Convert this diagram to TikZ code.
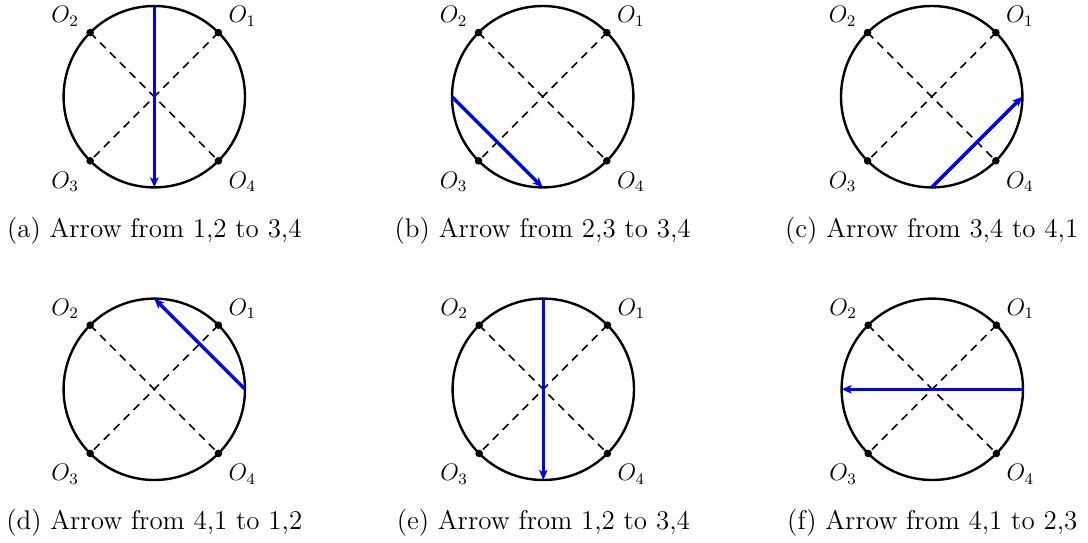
\documentclass[tikz,border=0pt]{standalone}
\usetikzlibrary{arrows.meta}
\tikzset{
  rim/.style={draw,circle,line width=1.2pt,inner sep=0pt,outer sep=0pt,minimum size=90.7pt},
  diag/.style={line width=0.8pt,dash pattern=on 4pt off 3pt},
  dotmark/.style={circle,fill,inner sep=0pt,outer sep=0pt,minimum size=3.8pt},
  move/.style={blue,line width=1.7pt,-{Stealth[length=5pt,width=4.2pt,inset=1.2pt]}},
  olab/.style={inner sep=0pt,font=\fontsize{12}{14}\selectfont},
  captext/.style={inner sep=0pt,anchor=base,font=\fontsize{13.5}{16}\selectfont}
}
\newcommand\mypanel[7]{% name, cx, cy, from angle, to angle, caption y, caption
  \begin{scope}[shift={(#2,#3)}]
    \node[rim] (#1c) at (0,0) {};
    \node[dotmark] (#1o1) at (#1c.45) {};
    \node[dotmark] (#1o2) at (#1c.135) {};
    \node[dotmark] (#1o3) at (#1c.225) {};
    \node[dotmark] (#1o4) at (#1c.315) {};
    \draw[diag] (#1o2.center) -- (#1o4.center);
    \draw[diag] (#1o1.center) -- (#1o3.center);
    \node[olab,anchor=base west] (#1l1) at (74,-74) {$O_1$};
    \node[olab,anchor=base east] (#1l2) at (-75,-74) {$O_2$};
    \node[olab,anchor=base east] (#1l3) at (-75,91.6) {$O_3$};
    \node[olab,anchor=base west] (#1l4) at (74,91.6) {$O_4$};
    \draw[move] (#1c.#4) -- (#1c.#5);
  \end{scope}
  \node[captext] (#1cap) at (#2,#6) {#7};
}
\begin{document}
\begin{tikzpicture}[x=0.5pt,y=-0.5pt]
\useasboundingbox (0,0) rectangle (1088,542);
\mypanel{a}{154.3}{96.7}{90}{270}{237}{(a) Arrow from 1,2 to 3,4}
\mypanel{b}{542.7}{96.7}{180}{270}{237}{(b) Arrow from 2,3 to 3,4}
\mypanel{c}{931.7}{96.7}{270}{0}{237}{(c) Arrow from 3,4 to 4,1}
\mypanel{d}{154.3}{389.3}{0}{90}{529.6}{(d) Arrow from 4,1 to 1,2}
\mypanel{e}{543.3}{389.3}{90}{270}{529.6}{(e) Arrow from 1,2 to 3,4}
\mypanel{f}{932.3}{389.3}{0}{180}{529.6}{(f) Arrow from 4,1 to 2,3}
\end{tikzpicture}
\end{document}
